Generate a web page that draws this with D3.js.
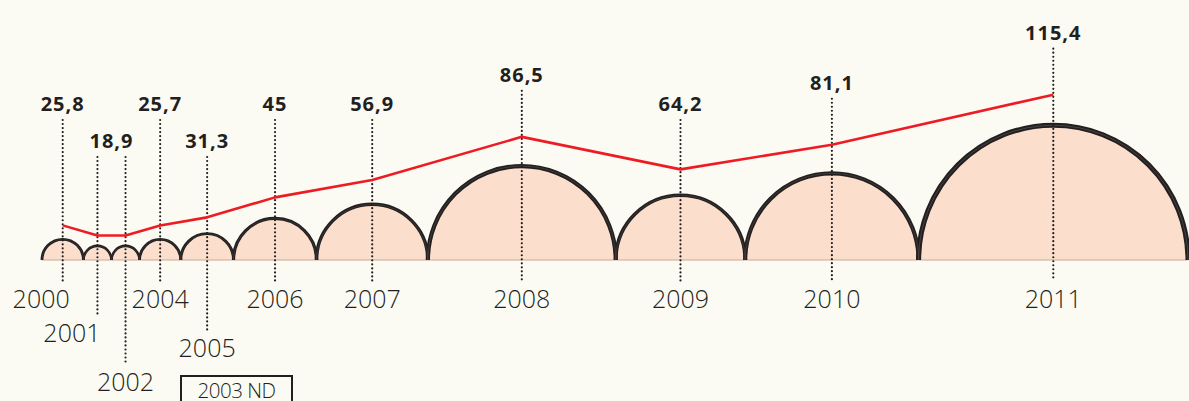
<!DOCTYPE html>
<html>
<head>
<meta charset="utf-8">
<script src="https://cdn.jsdelivr.net/npm/d3@7/dist/d3.min.js"></script>
<style>
  body { margin: 0; background: #fcfbf3; }
  svg { display: block; }
  .val { font-family: "Open Sans", sans-serif; font-weight: 700; font-size: 20px; letter-spacing: 1px; fill: #231f20; }
  .year { font-family: "Open Sans", sans-serif; font-weight: 300; font-size: 25px; fill: #231f20; }
  .note { font-family: "Open Sans", sans-serif; font-weight: 300; font-size: 20.5px; letter-spacing: -0.5px; fill: #231f20; }
</style>
</head>
<body>
<div id="chart"></div>
<script>
// data
const years = ["2000", "2001", "2002", "2004", "2005", "2006", "2007", "2008", "2009", "2010", "2011"];
const values = [25.8, 18.9, 18.9, 25.7, 31.3, 45, 56.9, 86.5, 64.2, 81.1, 115.4];
const missingNote = "2003 ND";

// layout for the year labels (staggered where they crowd)
const yearDrop = [0, 34, 83, 0, 49, 0, 0, 0, 0, 0, 0];
const yearAnchor = ["end", "end", "middle", "middle", "middle", "middle", "middle", "middle", "middle", "middle", "middle"];
const yearShift = [7, 3, 0, 0, 0, 0, 0, 0, 0, 0, 0];

const W = 1189, H = 401;
const x0 = 42, x1 = 1188, base = 260;
const ink = "#231f20";

const svg = d3.select("#chart").append("svg")
    .attr("width", W)
    .attr("height", H);

// radius grows a bit faster than the value, semicircles sit side by side
const rRaw = d3.scalePow().exponent(1.25).domain([0, d3.max(values)]).range([0, 1]);
const rMax = (x1 - x0) / 2 / d3.sum(values, v => rRaw(v));
const r = d3.scalePow().exponent(1.25).domain([0, d3.max(values)]).range([0, rMax]);

let acc = x0;
const items = values.map(function(v, i) {
    const rad = r(v);
    const cx = acc + rad;
    acc += 2 * rad;
    return { year: years[i], value: v, r: rad, cx: cx, i: i };
});

const yLine = d3.scaleLinear().domain([0, 120]).range([263, 88]);

// semicircles
function halfCircle(d) {
    const p = d3.path();
    p.moveTo(d.cx - d.r, base);
    p.arc(d.cx, base, d.r, Math.PI, 2 * Math.PI);
    return p.toString();
}

svg.selectAll(".fill")
    .data(items)
    .enter().append("path")
    .attr("class", "fill")
    .attr("d", halfCircle)
    .attr("fill", "#fbdfcc");

svg.append("line")
    .attr("x1", x0).attr("x2", x1)
    .attr("y1", base).attr("y2", base)
    .attr("stroke", "#c9a89a")
    .attr("stroke-width", 1);

svg.selectAll(".rim")
    .data(items)
    .enter().append("path")
    .attr("class", "rim")
    .attr("d", halfCircle)
    .attr("fill", "none")
    .attr("stroke", ink)
    .attr("stroke-width", d => 2.4 + d.r / 50);

svg.selectAll(".rim2")
    .data(items)
    .enter().append("path")
    .attr("class", "rim2")
    .attr("d", halfCircle)
    .attr("fill", "none")
    .attr("stroke", "#5e5553")
    .attr("stroke-width", d => 0.2 + d.r / 300);

// value labels (equal neighbours share one label)
const fmt = v => String(v).replace(".", ",");
const groups = [];
items.forEach(function(d) {
    const last = groups[groups.length - 1];
    if (last && last.value === d.value) last.members.push(d);
    else groups.push({ value: d.value, members: [d] });
});
groups.forEach(function(g, k) {
    g.x = d3.mean(g.members, d => d.cx);
    const crowded = g.members.length > 1 || (k > 0 && g.x - groups[k - 1].x < 50 && groups[k - 1].y === 111);
    g.y = crowded ? 148 : Math.min(yLine(g.value) - 55, 111);
    g.members.forEach(d => { d.labelY = g.y; });
});

// dotted leaders
items.forEach(function(d) {
    d.yearY = 308 + yearDrop[d.i];
});
svg.selectAll(".lead")
    .data(items)
    .enter().append("line")
    .attr("class", "lead")
    .attr("x1", d => d.cx).attr("x2", d => d.cx)
    .attr("y1", d => d.labelY + 9)
    .attr("y2", d => d.yearY - 27)
    .attr("stroke", ink)
    .attr("stroke-width", 2.2)
    .attr("stroke-linecap", "round")
    .attr("stroke-dasharray", "0.01 4");

// red line
const line = d3.line()
    .x(d => d.cx)
    .y(d => yLine(d.value));

svg.append("path")
    .datum(items)
    .attr("d", line)
    .attr("fill", "none")
    .attr("stroke", "#ed1c24")
    .attr("stroke-width", 2.6)
    .attr("stroke-linejoin", "round");

svg.selectAll(".val")
    .data(groups)
    .enter().append("text")
    .attr("class", "val")
    .attr("x", d => d.x)
    .attr("y", d => d.y)
    .attr("text-anchor", "middle")
    .text(d => fmt(d.value));

svg.selectAll(".year")
    .data(items)
    .enter().append("text")
    .attr("class", "year")
    .attr("x", d => d.cx + yearShift[d.i])
    .attr("y", d => d.yearY)
    .attr("text-anchor", d => yearAnchor[d.i])
    .text(d => d.year);

// missing year note
svg.append("rect")
    .attr("x", 181).attr("y", 376)
    .attr("width", 111).attr("height", 40)
    .attr("fill", "none")
    .attr("stroke", ink)
    .attr("stroke-width", 2);

svg.append("text")
    .attr("class", "note")
    .attr("x", 236.5).attr("y", 398)
    .attr("text-anchor", "middle")
    .text(missingNote);
</script>
</body>
</html>
